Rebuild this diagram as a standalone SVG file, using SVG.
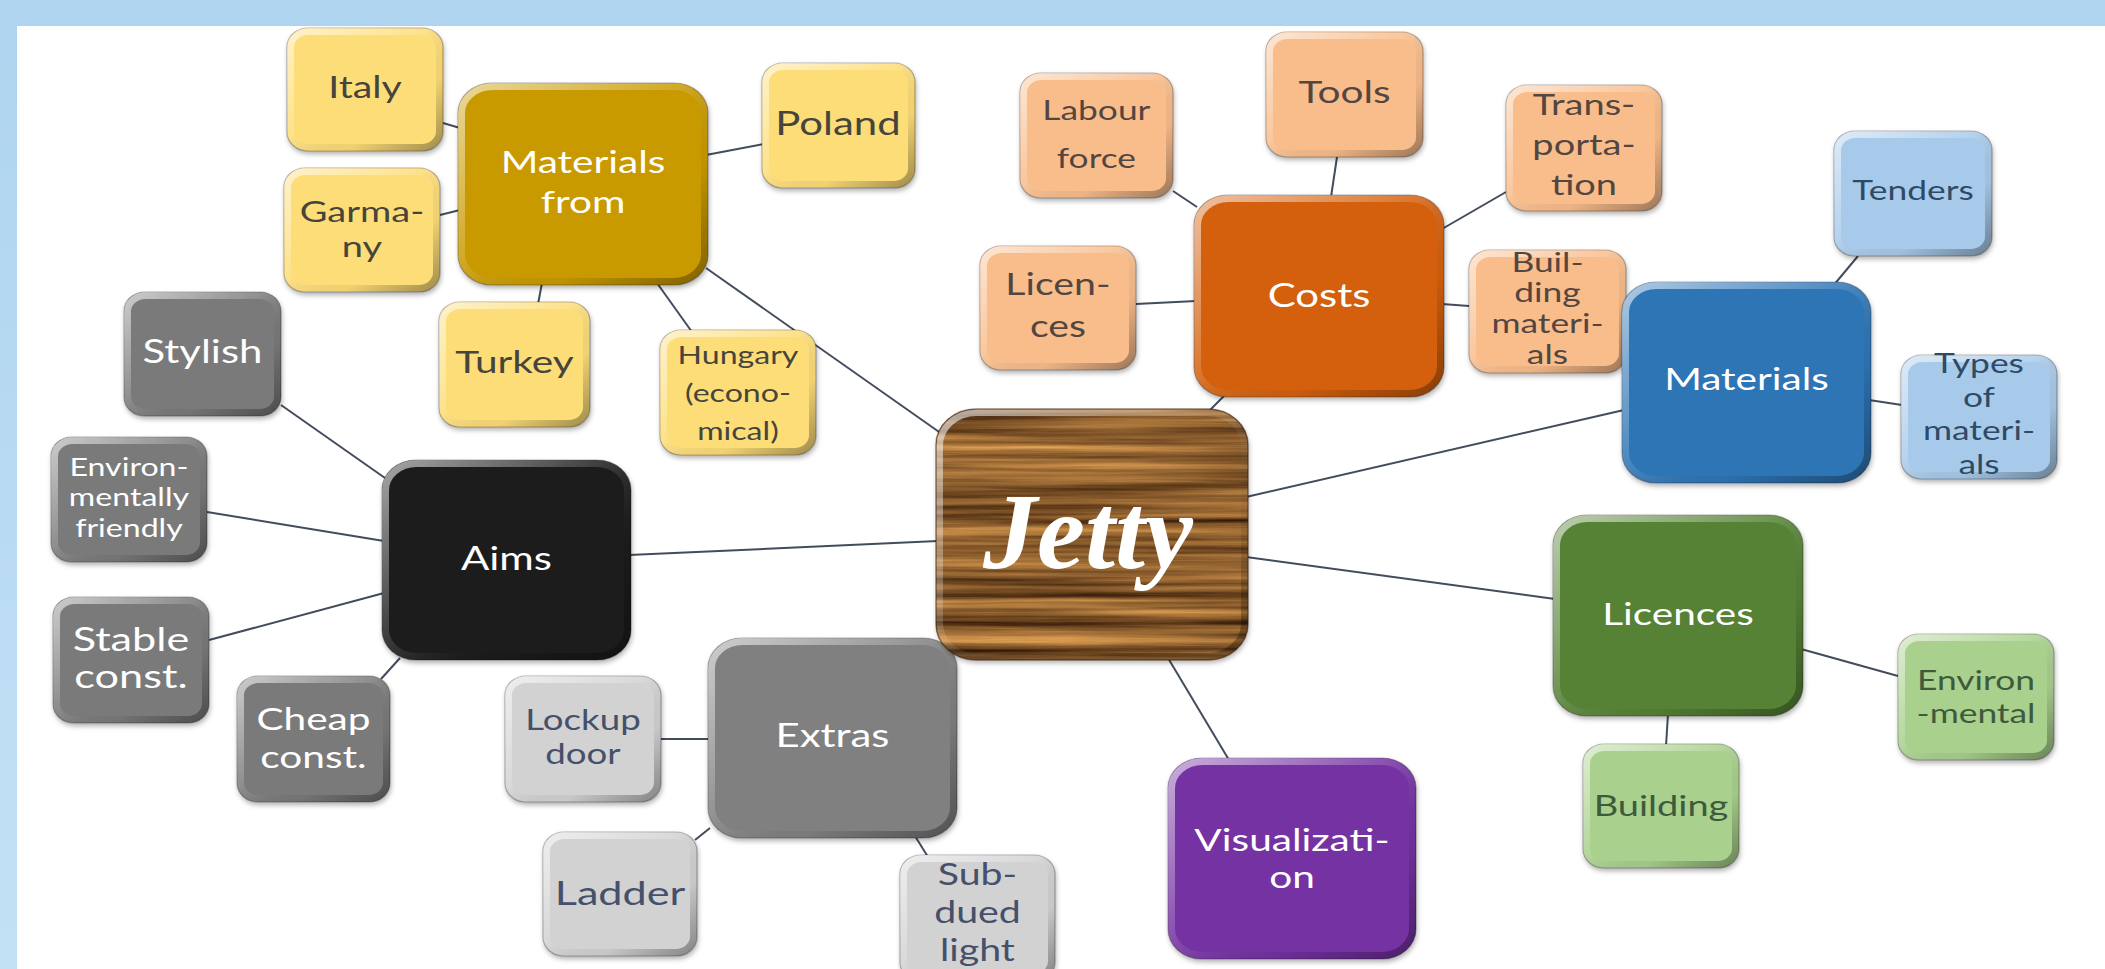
<svg xmlns="http://www.w3.org/2000/svg" width="2105" height="969" viewBox="0 0 2105 969">
<defs>
<style>
.b{stroke:rgba(0,0,0,0.28);stroke-width:1.2;filter:url(#sh);}
.rim{fill:none;stroke:url(#rim);stroke-width:7;}
.yel{fill:#fddd78}.gold{fill:#c99a04}.peach{fill:#f9bd8c}.org{fill:#d4600f}
.lblu{fill:#a8caea}.blu{fill:#2e74b6}.lgrn{fill:#a9d08d}.grn{fill:#548235}
.pur{fill:#7431a3}.blk{fill:#1c1c1c}.gry{fill:#7a7a7a}.ext{fill:#808080}.lgry{fill:#d2d2d2}
.t{font-family:Lato,"Liberation Sans",sans-serif;text-anchor:middle;transform-box:fill-box;transform-origin:50% 50%;transform:scaleX(1.31);}
.tw{fill:#ffffff}.td{fill:#45453c}.tb{fill:#2f4a66}.tg{fill:#3e5a3c}.ts{fill:#45506a}.to{fill:#534641}
.c line{stroke:#424c5c;stroke-width:2;}
</style>
<linearGradient id="rim" x1="0" y1="0" x2="1" y2="1">
<stop offset="0" stop-color="#ffffff" stop-opacity="0.6"/>
<stop offset="0.45" stop-color="#ffffff" stop-opacity="0.15"/>
<stop offset="0.7" stop-color="#000000" stop-opacity="0.05"/>
<stop offset="1" stop-color="#000000" stop-opacity="0.35"/>
</linearGradient>
<linearGradient id="band" x1="0" y1="0" x2="0" y2="1">
<stop offset="0" stop-color="#aed4ef"/>
<stop offset="1" stop-color="#c3e1f5"/>
</linearGradient>
<filter id="sh" x="-10%" y="-10%" width="125%" height="125%">
<feDropShadow dx="1" dy="3" stdDeviation="2.5" flood-color="#000" flood-opacity="0.3"/>
</filter>
<filter id="wood" x="0" y="0" width="1" height="1" color-interpolation-filters="sRGB">
<feTurbulence type="fractalNoise" baseFrequency="0.0025 0.11" numOctaves="5" seed="11" result="n"/>
<feColorMatrix in="n" type="matrix" values="0.9 0 0 0 0.1  0.7 0 0 0 0.02  0.4 0 0 0 -0.02  0 0 0 0 1" result="c"/>
<feComposite in="c" in2="SourceGraphic" operator="in"/>
</filter>
</defs>

<rect x="0" y="0" width="2105" height="969" fill="#ffffff"/>
<rect x="0" y="0" width="2105" height="26" fill="#aed4ef"/>
<rect x="0" y="0" width="17" height="969" fill="url(#band)"/>

<g id="connectors" class="c">
<line x1="443" y1="123" x2="460" y2="128"/>
<line x1="440" y1="215" x2="460" y2="210"/>
<line x1="706" y1="155" x2="764" y2="144"/>
<line x1="542" y1="283" x2="538" y2="304"/>
<line x1="657" y1="283" x2="692" y2="332"/>
<line x1="706" y1="268" x2="942" y2="434"/>
<line x1="281" y1="405" x2="385" y2="478"/>
<line x1="207" y1="512" x2="384" y2="541"/>
<line x1="209" y1="640" x2="384" y2="593"/>
<line x1="381" y1="679" x2="400" y2="658"/>
<line x1="629" y1="555" x2="938" y2="541"/>
<line x1="661" y1="739" x2="710" y2="739"/>
<line x1="695" y1="840" x2="710" y2="828"/>
<line x1="915" y1="836" x2="928" y2="857"/>
<line x1="1173" y1="191" x2="1197" y2="207"/>
<line x1="1337" y1="157" x2="1331" y2="197"/>
<line x1="1506" y1="192" x2="1442" y2="229"/>
<line x1="1136" y1="304" x2="1196" y2="301"/>
<line x1="1442" y1="304" x2="1469" y2="306"/>
<line x1="1226" y1="394" x2="1208" y2="412"/>
<line x1="1858" y1="256" x2="1833" y2="286"/>
<line x1="1869" y1="400" x2="1902" y2="405"/>
<line x1="1246" y1="497" x2="1624" y2="410"/>
<line x1="1246" y1="557" x2="1555" y2="599"/>
<line x1="1801" y1="649" x2="1898" y2="676"/>
<line x1="1668" y1="714" x2="1666" y2="746"/>
<line x1="1168" y1="658" x2="1229" y2="760"/>
</g>

<g id="n-italy">
<rect class="b yel" x="287" y="28" width="156" height="123" rx="21" ry="19"/>
<rect class="rim" x="290.5" y="31.5" width="149" height="116" rx="18" ry="16"/>
<text class="t td" x="365" y="98" font-size="30">Italy</text>
</g>
<g id="n-garmany">
<rect class="b yel" x="284" y="168" width="156" height="124" rx="21" ry="19"/>
<rect class="rim" x="287.5" y="171.5" width="149" height="117" rx="18" ry="16"/>
<text class="t td" font-size="29"><tspan x="362" y="222">Garma-</tspan><tspan x="362" y="257">ny</tspan></text>
</g>
<g id="n-poland">
<rect class="b yel" x="762" y="63" width="153" height="125" rx="21" ry="19"/>
<rect class="rim" x="765.5" y="66.5" width="146" height="118" rx="18" ry="16"/>
<text class="t td" x="838" y="135" font-size="32">Poland</text>
</g>
<g id="n-turkey">
<rect class="b yel" x="439" y="302" width="151" height="125" rx="21" ry="19"/>
<rect class="rim" x="442.5" y="305.5" width="144" height="118" rx="18" ry="16"/>
<text class="t td" x="514.5" y="373" font-size="31">Turkey</text>
</g>
<g id="n-hungary">
<rect class="b yel" x="660" y="330" width="156" height="125" rx="21" ry="19"/>
<rect class="rim" x="663.5" y="333.5" width="149" height="118" rx="18" ry="16"/>
<text class="t td" font-size="24.5"><tspan x="738" y="364">Hungary</tspan><tspan x="738" y="402">(econo-</tspan><tspan x="738" y="440">mical)</tspan></text>
</g>
<g id="n-materials-from">
<rect class="b gold" x="458" y="83" width="250" height="202" rx="34" ry="30"/>
<rect class="rim" x="461.5" y="86.5" width="243" height="195" rx="31" ry="27"/>
<text class="t tw" font-size="31"><tspan x="583" y="173">Materials</tspan><tspan x="583" y="213">from</tspan></text>
</g>

<g id="n-stylish">
<rect class="b gry" x="124" y="292" width="157" height="124" rx="21" ry="19"/>
<rect class="rim" x="127.5" y="295.5" width="150" height="117" rx="18" ry="16"/>
<text class="t tw" x="202.5" y="363" font-size="32">Stylish</text>
</g>
<g id="n-env-friendly">
<rect class="b gry" x="51" y="437" width="156" height="125" rx="21" ry="19"/>
<rect class="rim" x="54.5" y="440.5" width="149" height="118" rx="18" ry="16"/>
<text class="t tw" font-size="24.5"><tspan x="129" y="476">Environ-</tspan><tspan x="129" y="506">mentally</tspan><tspan x="129" y="537">friendly</tspan></text>
</g>
<g id="n-stable">
<rect class="b gry" x="53" y="597" width="156" height="126" rx="21" ry="19"/>
<rect class="rim" x="56.5" y="600.5" width="149" height="119" rx="18" ry="16"/>
<text class="t tw" font-size="33"><tspan x="131" y="651">Stable</tspan><tspan x="131" y="688">const.</tspan></text>
</g>
<g id="n-cheap">
<rect class="b gry" x="237" y="676" width="153" height="126" rx="21" ry="19"/>
<rect class="rim" x="240.5" y="679.5" width="146" height="119" rx="18" ry="16"/>
<text class="t tw" font-size="31"><tspan x="313.5" y="730">Cheap</tspan><tspan x="313.5" y="768">const.</tspan></text>
</g>
<g id="n-aims">
<rect class="b blk" x="382" y="460" width="249" height="200" rx="34" ry="30"/>
<rect class="rim" x="385.5" y="463.5" width="242" height="193" rx="31" ry="27"/>
<text class="t tw" x="506.5" y="570" font-size="32">Aims</text>
</g>

<g id="n-lockup">
<rect class="b lgry" x="505" y="676" width="156" height="126" rx="21" ry="19"/>
<rect class="rim" x="508.5" y="679.5" width="149" height="119" rx="18" ry="16"/>
<text class="t ts" font-size="28"><tspan x="583" y="730">Lockup</tspan><tspan x="583" y="764">door</tspan></text>
</g>
<g id="n-ladder">
<rect class="b lgry" x="543" y="832" width="154" height="124" rx="21" ry="19"/>
<rect class="rim" x="546.5" y="835.5" width="147" height="117" rx="18" ry="16"/>
<text class="t ts" x="620" y="905" font-size="33">Ladder</text>
</g>
<g id="n-subdued">
<rect class="b lgry" x="900" y="855" width="155" height="126" rx="21" ry="19"/>
<rect class="rim" x="903.5" y="858.5" width="148" height="119" rx="18" ry="16"/>
<text class="t ts" font-size="30"><tspan x="977.5" y="885">Sub-</tspan><tspan x="977.5" y="923">dued</tspan><tspan x="977.5" y="961">light</tspan></text>
</g>
<g id="n-extras">
<rect class="b ext" x="708" y="638" width="249" height="200" rx="34" ry="30"/>
<rect class="rim" x="711.5" y="641.5" width="242" height="193" rx="31" ry="27"/>
<text class="t tw" x="832.5" y="747" font-size="32">Extras</text>
</g>

<g id="n-labour">
<rect class="b peach" x="1020" y="73" width="153" height="125" rx="21" ry="19"/>
<rect class="rim" x="1023.5" y="76.5" width="146" height="118" rx="18" ry="16"/>
<text class="t to" font-size="27"><tspan x="1096.5" y="120">Labour</tspan><tspan x="1096.5" y="168">force</tspan></text>
</g>
<g id="n-tools">
<rect class="b peach" x="1266" y="32" width="157" height="125" rx="21" ry="19"/>
<rect class="rim" x="1269.5" y="35.5" width="150" height="118" rx="18" ry="16"/>
<text class="t to" x="1344.5" y="103" font-size="31">Tools</text>
</g>
<g id="n-transport">
<rect class="b peach" x="1506" y="85" width="156" height="126" rx="21" ry="19"/>
<rect class="rim" x="1509.5" y="88.5" width="149" height="119" rx="18" ry="16"/>
<text class="t to" font-size="29"><tspan x="1584" y="115">Trans-</tspan><tspan x="1584" y="155">porta-</tspan><tspan x="1584" y="195">tion</tspan></text>
</g>
<g id="n-licen-ces">
<rect class="b peach" x="980" y="246" width="156" height="124" rx="21" ry="19"/>
<rect class="rim" x="983.5" y="249.5" width="149" height="117" rx="18" ry="16"/>
<text class="t to" font-size="30"><tspan x="1058" y="295">Licen-</tspan><tspan x="1058" y="337">ces</tspan></text>
</g>
<g id="n-building-materials">
<rect class="b peach" x="1469" y="250" width="157" height="123" rx="21" ry="19"/>
<rect class="rim" x="1472.5" y="253.5" width="150" height="116" rx="18" ry="16"/>
<text class="t to" font-size="27"><tspan x="1547.5" y="272">Buil-</tspan><tspan x="1547.5" y="302">ding</tspan><tspan x="1547.5" y="333">materi-</tspan><tspan x="1547.5" y="364">als</tspan></text>
</g>
<g id="n-costs">
<rect class="b org" x="1194" y="195" width="250" height="202" rx="34" ry="30"/>
<rect class="rim" x="1197.5" y="198.5" width="243" height="195" rx="31" ry="27"/>
<text class="t tw" x="1319" y="307" font-size="32">Costs</text>
</g>

<g id="n-tenders">
<rect class="b lblu" x="1834" y="131" width="158" height="125" rx="21" ry="19"/>
<rect class="rim" x="1837.5" y="134.5" width="151" height="118" rx="18" ry="16"/>
<text class="t tb" x="1913" y="200" font-size="27">Tenders</text>
</g>
<g id="n-types">
<rect class="b lblu" x="1901" y="355" width="156" height="124" rx="21" ry="19"/>
<rect class="rim" x="1904.5" y="358.5" width="149" height="117" rx="18" ry="16"/>
<text class="t tb" font-size="27"><tspan x="1979" y="373">Types</tspan><tspan x="1979" y="407">of</tspan><tspan x="1979" y="440">materi-</tspan><tspan x="1979" y="474">als</tspan></text>
</g>
<g id="n-materials">
<rect class="b blu" x="1622" y="282" width="249" height="201" rx="34" ry="30"/>
<rect class="rim" x="1625.5" y="285.5" width="242" height="194" rx="31" ry="27"/>
<text class="t tw" x="1746.5" y="390" font-size="31">Materials</text>
</g>

<g id="n-env-mental">
<rect class="b lgrn" x="1898" y="634" width="156" height="126" rx="21" ry="19"/>
<rect class="rim" x="1901.5" y="637.5" width="149" height="119" rx="18" ry="16"/>
<text class="t tg" font-size="27"><tspan x="1976" y="690">Environ</tspan><tspan x="1976" y="723">-mental</tspan></text>
</g>
<g id="n-building">
<rect class="b lgrn" x="1583" y="744" width="156" height="124" rx="21" ry="19"/>
<rect class="rim" x="1586.5" y="747.5" width="149" height="117" rx="18" ry="16"/>
<text class="t tg" x="1661" y="816" font-size="29">Building</text>
</g>
<g id="n-licences">
<rect class="b grn" x="1553" y="515" width="250" height="201" rx="34" ry="30"/>
<rect class="rim" x="1556.5" y="518.5" width="243" height="194" rx="31" ry="27"/>
<text class="t tw" x="1678" y="625" font-size="31">Licences</text>
</g>

<g id="n-visualization">
<rect class="b pur" x="1168" y="758" width="248" height="201" rx="34" ry="30"/>
<rect class="rim" x="1171.5" y="761.5" width="241" height="194" rx="31" ry="27"/>
<text class="t tw" font-size="31"><tspan x="1292" y="851">Visualizati-</tspan><tspan x="1292" y="888">on</tspan></text>
</g>

<g id="n-jetty">
<rect x="936" y="409" width="312" height="251" rx="40" ry="36" fill="#7a4c22" filter="url(#sh)"/>
<rect x="936" y="409" width="312" height="251" rx="40" ry="36" fill="#000" filter="url(#wood)"/>
<rect class="rim" x="939.5" y="412.5" width="305" height="244" rx="37" ry="33"/>
<rect x="936" y="409" width="312" height="251" rx="40" ry="36" fill="none" stroke="rgba(60,30,10,0.55)" stroke-width="1.5"/>
<text x="1088" y="568" font-family="'Liberation Serif','DejaVu Serif',serif" font-style="italic" font-weight="bold" font-size="108" fill="#ffffff" text-anchor="middle">Jetty</text>
</g>
</svg>
